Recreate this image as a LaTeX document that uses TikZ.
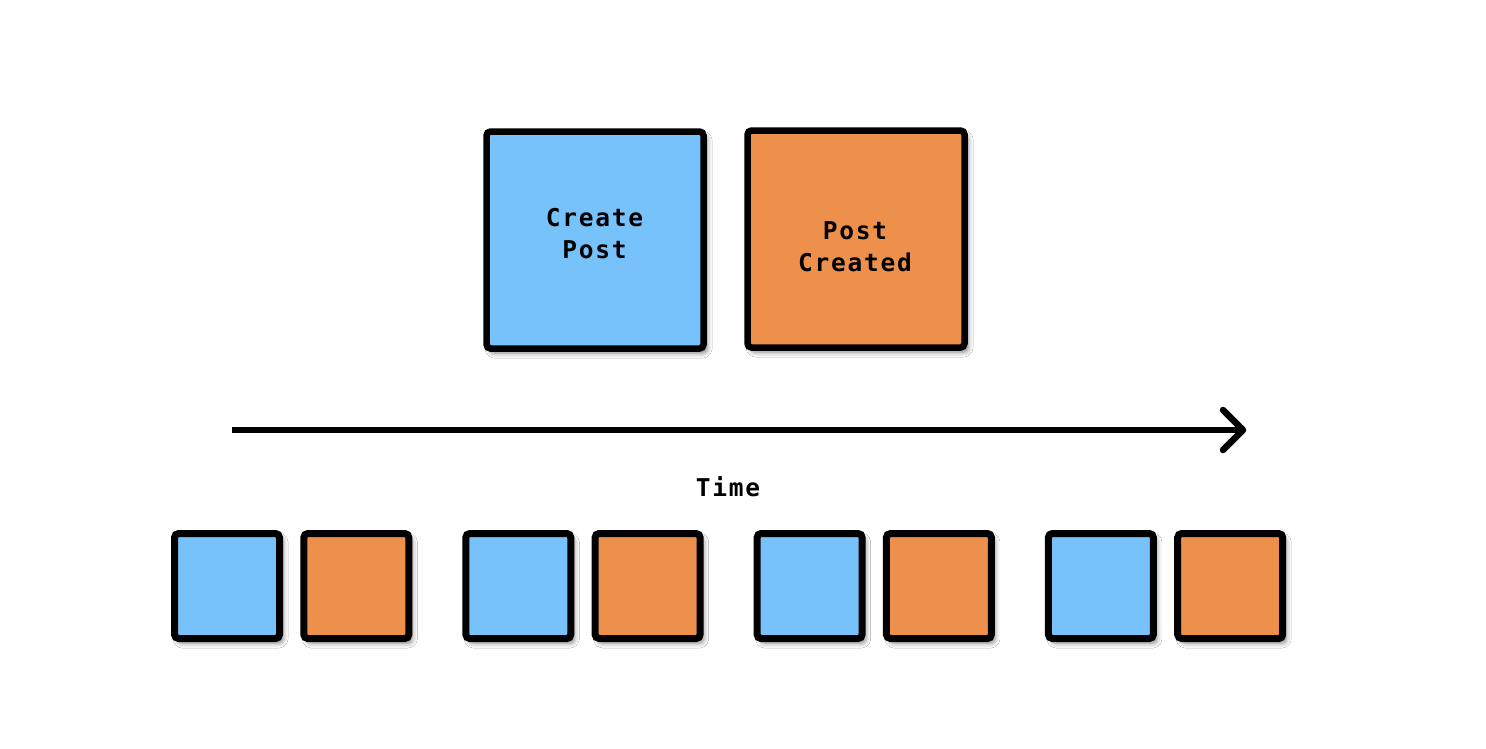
\documentclass[tikz,border=0pt]{standalone}
\usepackage{fontspec}
\newfontfamily\boxfont[LetterSpace=7]{DejaVu Sans Mono}
\usetikzlibrary{shadows.blur}
\definecolor{evblue}{RGB}{119,194,251}
\definecolor{evorange}{RGB}{236,144,76}
\tikzset{
  softshadow/.style={blur shadow={shadow xshift=3.5pt, shadow yshift=-4.5pt, shadow blur radius=5pt, shadow opacity=50}},
  bigbox/.style={draw=black, line width=6.5pt, rounded corners=4pt, minimum size=217pt, inner sep=0pt, softshadow},
  smallbox/.style={draw=black, line width=7pt, rounded corners=4pt, minimum size=105pt, inner sep=0pt, softshadow},
  cmd/.style={fill=evblue},
  evt/.style={fill=evorange},
  lbl/.style={font=\boxfont\bfseries\fontsize{24.5}{32.3}\selectfont, align=center, inner sep=0pt},
  timeline/.style={line width=6.5pt, line cap=round, line join=round}
}
\begin{document}
\begin{tikzpicture}[x=1pt,y=-1pt]
\useasboundingbox[fill=white] (0,0) rectangle (1486,748);
% big boxes
\node[bigbox, cmd] (create) at (595,240) {};
\node[bigbox, evt] (created) at (856,239) {};
\node[lbl] (createtxt) at (594.5,233.5) {Create\\Post};
\node[lbl] (createdtxt) at (855,247) {Post\\Created};
% timeline arrow
\coordinate (tstart) at (232,430);
\coordinate (tend) at (1243,430);
\draw[timeline, line cap=butt] (tstart) -- (tend);
\draw[timeline] (tend) ++(-20,-20) -- (tend) -- ++(-20,20);
\node[lbl] (time) at (728,486.5) {Time};
% small boxes
\foreach \i/\x in {1/227,2/518.3,3/809.6,4/1100.9}{
  \node[smallbox, cmd] (c\i) at (\x,586) {};
  \node[smallbox, evt] (e\i) at (\x+129.3,586) {};
}
\end{tikzpicture}
\end{document}
